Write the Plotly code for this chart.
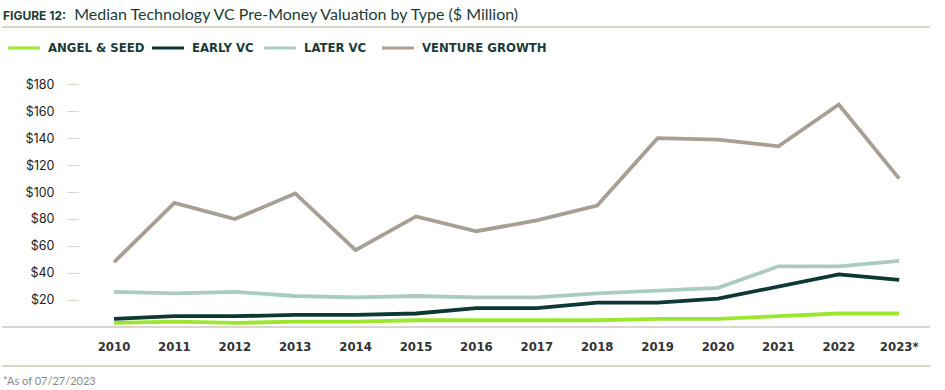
import plotly.graph_objects as go

years = ["2010", "2011", "2012", "2013", "2014", "2015", "2016", "2017",
         "2018", "2019", "2020", "2021", "2022", "2023*"]
angel_seed = [3, 4, 3, 4, 4, 5, 5, 5, 5, 6, 6, 8, 10, 10]
early_vc = [6, 8, 8, 9, 9, 10, 14, 14, 18, 18, 21, 30, 39, 35]
later_vc = [26, 25, 26, 23, 22, 23, 22, 22, 25, 27, 29, 45, 45, 49]
venture_growth = [48, 92, 80, 99, 57, 82, 71, 79, 90, 140, 139, 134, 165, 110]

series_names = ["ANGEL & SEED", "EARLY VC", "LATER VC", "VENTURE GROWTH"]
series_vals = [angel_seed, early_vc, later_vc, venture_growth]
series_colors = ["#9be62e", "#0d3833", "#a9cbc2", "#a89f93"]

ytick_vals = [20, 40, 60, 80, 100, 120, 140, 160, 180]
ytick_text = ["$" + str(v) for v in ytick_vals]

W, H = 945, 390
ML, MR, MT, MB = 80, 15, 64, 63
PW = W - ML - MR
PH = H - MT - MB

fig = go.Figure()
xi = list(range(len(years)))
for name, vals, col in zip(series_names, series_vals, series_colors):
    fig.add_trace(go.Scatter(x=xi, y=vals, name=name, mode="lines",
                             line=dict(color=col, width=3.8), showlegend=False))

def px_x(p):
    return (p - ML) / PW

def px_y(p):
    return (H - MB - p) / PH

cond = "DejaVu Sans Condensed, Liberation Sans Narrow, Arial Narrow, sans-serif"
dark = "#1b3c38"

fig.update_layout(
    width=W, height=H,
    margin=dict(l=ML, r=MR, t=MT, b=MB),
    paper_bgcolor="white", plot_bgcolor="white",
    showlegend=False,
    xaxis=dict(range=[-0.563, 13.51], tickmode="array", tickvals=xi, ticktext=years,
               showgrid=False, zeroline=False, showline=False, ticks="",
               tickfont=dict(family=cond, size=13, color="#333333", weight="bold"),
               ticklabelstandoff=10, fixedrange=True),
    yaxis=dict(range=[0, 195], tickmode="array", tickvals=ytick_vals, ticktext=ytick_text,
               showgrid=False, zeroline=False, showline=False,
               ticks="outside", ticklen=12, tickcolor="#d9d6cc", tickwidth=1,
               ticklabelstandoff=10,
               tickfont=dict(family="Inter", size=12.5, color="#222222"), fixedrange=True),
)

# legend (manual, positioned like the reference)
leg_x = [8, 152, 264, 382]
for name, col, lx in zip(series_names, series_colors, leg_x):
    fig.add_shape(type="line", xref="paper", yref="paper",
                  x0=px_x(lx), x1=px_x(lx + 32), y0=px_y(48), y1=px_y(48),
                  line=dict(color=col, width=3))
    fig.add_annotation(xref="paper", yref="paper", x=px_x(lx + 38), y=px_y(48),
                       xanchor="left", yanchor="middle", showarrow=False,
                       text=name, font=dict(family=cond, size=13, color=dark, weight="bold"))

# rules
rule_col = "#cfc8bd"
for yp in [27, 327, 366]:
    fig.add_shape(type="line", xref="paper", yref="paper",
                  x0=px_x(2), x1=px_x(930), y0=px_y(yp), y1=px_y(yp),
                  line=dict(color=rule_col, width=1.5), layer="below")

fig.add_annotation(xref="paper", yref="paper", x=px_x(1), y=px_y(14),
                   xanchor="left", yanchor="middle", showarrow=False,
                   text="<b><span style='font-size:12px;font-family:Inter'>FIGURE 12:</span></b>  Median Technology VC Pre-Money Valuation by Type ($ Million)",
                   font=dict(family="Lato", size=16, color=dark))
fig.add_annotation(xref="paper", yref="paper", x=px_x(1), y=px_y(380),
                   xanchor="left", yanchor="middle", showarrow=False,
                   text="*As of 07/27/2023",
                   font=dict(family="Lato", size=11, color="#8a8a8a"))

fig.write_html("out.html", config={"displayModeBar": False},
               post_script="document.body.style.margin='0';document.body.style.overflow='hidden';")
